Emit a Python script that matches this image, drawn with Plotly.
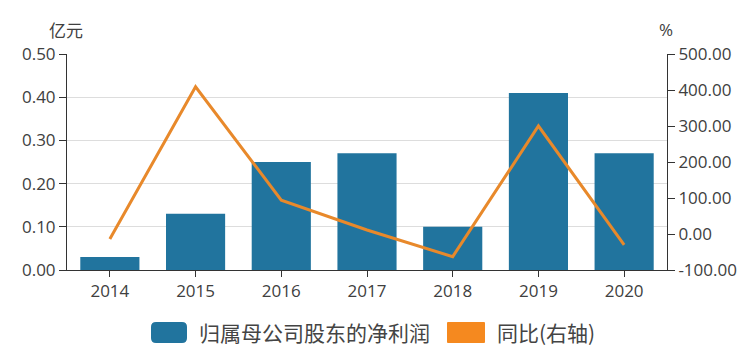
import plotly.graph_objects as go

years = ["2014", "2015", "2016", "2017", "2018", "2019", "2020"]
profit = [0.03, 0.13, 0.25, 0.27, 0.10, 0.41, 0.27]
yoy = [-14, 409, 94, 11, -63, 300, -30]
left_ticks = [0, 0.1, 0.2, 0.3, 0.4, 0.5]
right_ticks = [-100, 0, 100, 200, 300, 400, 500]

BAR = "#21749E"
LINE = "#E8892B"
LEG_ORANGE = "#F5891F"
TXT = "#404040"
FONT = "Open Sans, Noto Sans CJK SC"
CJK = "Noto Sans CJK SC"

fig = go.Figure()
fig.add_trace(go.Bar(x=years, y=profit, marker_color=BAR, marker_line_width=0,
                     name="归属母公司股东的净利润", showlegend=False))
fig.add_trace(go.Scatter(x=years, y=yoy, yaxis="y2", mode="lines",
                         line=dict(color=LINE, width=3), name="同比(右轴)", showlegend=False))

fig.update_layout(
    width=755, height=353,
    margin=dict(l=67, r=88, t=54, b=83),
    paper_bgcolor="white", plot_bgcolor="white",
    font=dict(family=FONT, size=17, color=TXT),
    bargap=0.31,
    xaxis=dict(type="category", showline=True, linecolor="#333", linewidth=1,
               ticks="outside", ticklen=6, tickcolor="#333", showgrid=False,
               tickfont=dict(size=17, color=TXT)),
    yaxis=dict(range=[0, 0.5], tickvals=left_ticks, ticktext=[f"{v:.2f}" for v in left_ticks],
               showline=True, linecolor="#333", linewidth=1, ticks="outside", ticklen=7,
               tickcolor="#333", gridcolor="#DDDDDD", gridwidth=1, zeroline=False,
               tickfont=dict(size=17, color=TXT)),
    yaxis2=dict(range=[-100, 500], tickvals=right_ticks, ticktext=[f"{v:.2f}" for v in right_ticks],
                overlaying="y", side="right", showline=True, linecolor="#333", linewidth=1,
                ticks="outside", ticklen=7, tickcolor="#333", showgrid=False, zeroline=False,
                tickfont=dict(size=17, color=TXT)),
    showlegend=False,
)

def px2paper_x(px):
    return (px - 67) / 600

def px2paper_y(py):
    return (270 - py) / 216

fig.add_annotation(text="亿元", x=px2paper_x(66), y=px2paper_y(29), xref="paper", yref="paper",
                   showarrow=False, font=dict(family=CJK, size=17, color=TXT),
                   xanchor="center", yanchor="middle")
fig.add_annotation(text="%", x=px2paper_x(666), y=px2paper_y(29), xref="paper", yref="paper",
                   showarrow=False, font=dict(size=17, color=TXT), xanchor="center", yanchor="middle")

# legend drawn manually
def rounded_rect(x0, x1, y0, y1, r):
    X0, X1 = px2paper_x(x0), px2paper_x(x1)
    Y0, Y1 = px2paper_y(y1), px2paper_y(y0)  # bottom, top in paper
    rx, ry = r / 600, r / 216
    return (f"M{X0+rx},{Y0} L{X1-rx},{Y0} Q{X1},{Y0} {X1},{Y0+ry} L{X1},{Y1-ry} "
            f"Q{X1},{Y1} {X1-rx},{Y1} L{X0+rx},{Y1} Q{X0},{Y1} {X0},{Y1-ry} "
            f"L{X0},{Y0+ry} Q{X0},{Y0} {X0+rx},{Y0} Z")

legend = [("归属母公司股东的净利润", BAR, 151, 187, 197, 5), ("同比(右轴)", LEG_ORANGE, 447, 485, 495, 1)]
for label, col, x0, x1, tx, r in legend:
    fig.add_shape(type="path", xref="paper", yref="paper",
                  path=rounded_rect(x0, x1, 322, 343, r),
                  fillcolor=col, line=dict(width=0))
    fig.add_annotation(text=label, x=px2paper_x(tx), y=px2paper_y(332), xref="paper", yref="paper",
                       showarrow=False, font=dict(family=CJK, size=21, color="#444"),
                       xanchor="left", yanchor="middle")

fig.write_html("out.html")
